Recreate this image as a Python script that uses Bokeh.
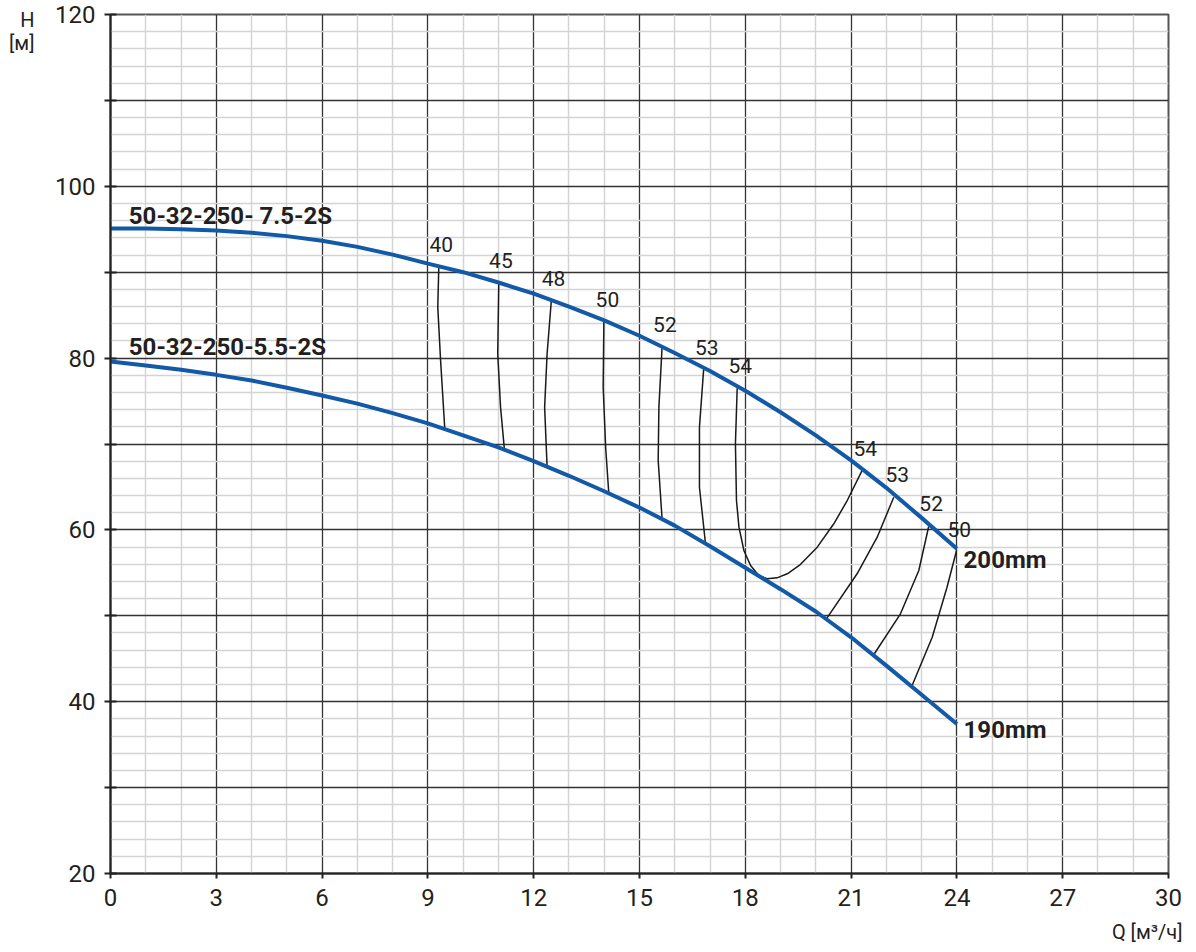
from bokeh.plotting import figure
from bokeh.models import FixedTicker, LinearAxis, Title
from bokeh.core.properties import value
from bokeh.embed import file_html
from bokeh.resources import INLINE

# ---------------- data ----------------
# Impeller 200 mm (50-32-250- 7.5-2S)
q_200 = [0, 1, 2, 3, 4, 5, 6, 7, 8, 9, 10, 11, 12, 13, 14, 15, 16, 17, 18, 19, 20, 21, 22, 23, 24]
h_200 = [95.1, 95.1, 95.0, 94.85, 94.6, 94.2, 93.65, 92.95, 92.05, 91.0, 90.0, 88.8, 87.5, 86.0,
         84.4, 82.6, 80.6, 78.5, 76.2, 73.7, 71.0, 68.1, 64.9, 61.4, 57.8]
# Impeller 190 mm (50-32-250-5.5-2S)
q_190 = [0, 1, 2, 3, 4, 5, 6, 7, 8, 9, 10, 11, 12, 13, 14, 15, 16, 17, 18, 19, 20, 21, 22, 23, 24]
h_190 = [79.6, 79.15, 78.65, 78.05, 77.4, 76.55, 75.65, 74.7, 73.6, 72.4, 71.0, 69.6, 68.0, 66.3,
         64.5, 62.6, 60.5, 58.1, 55.6, 53.1, 50.5, 47.5, 44.2, 40.8, 37.4]

# Efficiency iso-lines (%)
eff_q = [
    [9.31, 9.28, 9.36, 9.48],
    [11.01, 10.98, 11.06, 11.17],
    [12.50, 12.38, 12.31, 12.38],
    [13.99, 13.97, 14.04, 14.13],
    [15.64, 15.55, 15.53, 15.64],
    [16.82, 16.70, 16.70, 16.87],
    [17.77, 17.72, 17.75, 17.82, 17.96, 18.15, 18.38, 18.62, 18.90, 19.19, 19.56, 20.04,
     20.51, 20.89, 21.31],
    [22.21, 21.74, 21.17, 20.30],
    [23.20, 22.92, 22.40, 21.66],
    [23.99, 23.72, 23.30, 22.73],
]
eff_h = [
    [90.78, 85.93, 79.72, 71.69],
    [88.76, 80.50, 74.29, 69.32],
    [86.71, 80.50, 74.29, 67.30],
    [84.38, 76.61, 69.63, 64.20],
    [81.27, 74.29, 68.08, 61.29],
    [78.75, 71.96, 64.97, 58.45],
    [76.50, 70.02, 63.42, 60.32, 57.60, 55.86, 54.69, 54.31, 54.42, 54.89, 55.97, 57.99,
     60.71, 63.42, 66.91],
    [63.81, 59.15, 54.89, 49.65],
    [60.40, 55.27, 50.23, 45.58],
    [57.60, 53.33, 47.51, 41.89],
]
eff_labels = ["40", "45", "48", "50", "52", "53", "54", "54", "53", "52", "50"]
eff_label_q = [9.38, 11.07, 12.56, 14.09, 15.72, 16.91, 17.86, 21.40, 22.31, 23.27, 24.07]
eff_label_h = [93.22, 91.36, 89.27, 86.88, 83.91, 81.29, 79.17, 69.48, 66.48, 63.10, 60.08]

curve_names = ["50-32-250- 7.5-2S", "50-32-250-5.5-2S", "200mm", "190mm"]
curve_name_q = [0.52, 0.52, 24.19, 24.19]
curve_name_h = [96.6, 81.3, 56.55, 36.65]

x_ticks = [0, 3, 6, 9, 12, 15, 18, 21, 24, 27, 30]
x_minor = [i for i in range(0, 31) if i % 3 != 0]
y_ticks = [20, 30, 40, 50, 60, 70, 80, 90, 100, 110, 120]
y_minor = [v for v in range(20, 121, 2) if v % 10 != 0]
y_tick_labels = ["20", "", "40", "", "60", "", "80", "", "100", "", "120"]

x_title = "Q [м³/ч]"
y_title_lines = ["H", "[м]"]
y_title_at = [119.36, 116.68]   # vertical positions of the two title lines, in H units

FONT = "Roboto"
TXT = "#231f20"
BLUE = "#1259a7"

p = figure(frame_width=1058, frame_height=859, x_range=(0, 30), y_range=(20, 120),
           output_backend="svg", toolbar_location=None,
           min_border_left=110, min_border_right=20, min_border_top=14, min_border_bottom=74,
           background_fill_color="white", border_fill_color="white")

# axes / ticks
p.xaxis.ticker = FixedTicker(ticks=x_ticks, minor_ticks=x_minor)
p.yaxis.ticker = FixedTicker(ticks=y_ticks, minor_ticks=y_minor)
p.yaxis.major_label_overrides = {t: lab for t, lab in zip(y_ticks, y_tick_labels)}

for ax in (p.xaxis, p.yaxis):
    ax.axis_line_color = "#222"
    ax.axis_line_width = 2
    ax.major_tick_line_color = "#222"
    ax.major_tick_line_width = 2
    ax.minor_tick_line_color = None
    ax.major_label_text_font = FONT
    ax.major_label_text_font_size = "24px"
    ax.major_label_text_color = TXT
p.xaxis.major_tick_in = 0
p.xaxis.major_tick_out = 5
p.xaxis.major_label_standoff = 10
p.yaxis.major_tick_in = 6
p.yaxis.major_tick_out = 6
p.yaxis.major_label_standoff = 9

# y title "H [м]" as a label-only axis to the left of the value axis
title_axis = LinearAxis(ticker=FixedTicker(ticks=y_title_at, minor_ticks=[]),
                        major_label_overrides={t: s for t, s in zip(y_title_at, y_title_lines)},
                        axis_line_color=None, major_tick_line_color=None,
                        minor_tick_line_color=None, major_tick_in=0, major_tick_out=0,
                        major_label_standoff=18, major_label_text_font=FONT,
                        major_label_text_font_size="20px", major_label_text_color=TXT)
p.add_layout(title_axis, "left")

# x title "Q [м³/ч]"
p.add_layout(Title(text=x_title, align="right", offset=-14, standoff=19,
                   text_font=FONT, text_font_size="20px", text_font_style="normal",
                   text_color=TXT), "below")

# grids
for g in (p.xgrid, p.ygrid):
    g.grid_line_color = "#333333"
    g.grid_line_width = 1.3
    g.minor_grid_line_color = "#d4d4d4"
    g.minor_grid_line_width = 1.5
p.xgrid.ticker = FixedTicker(ticks=x_ticks, minor_ticks=x_minor)
p.ygrid.ticker = FixedTicker(ticks=y_ticks, minor_ticks=y_minor)

p.outline_line_color = "#555555"
p.outline_line_width = 2

# efficiency lines
p.multi_line(eff_q, eff_h, line_color="#1a1a1a", line_width=1.5)

# pump curves
p.line(q_200, h_200, line_color=BLUE, line_width=4)
p.line(q_190, h_190, line_color=BLUE, line_width=4)

# efficiency labels
p.text(x=eff_label_q, y=eff_label_h, text=eff_labels, text_font=value(FONT),
       text_font_size="21px", text_align="center", text_baseline="middle", text_color=TXT)

# curve names
p.text(x=curve_name_q, y=curve_name_h, text=curve_names, text_font=value(FONT),
       text_font_size="24px", text_font_style="bold", text_align="left",
       text_baseline="middle", text_color=TXT)

open("out.html", "w").write(file_html(p, INLINE))
